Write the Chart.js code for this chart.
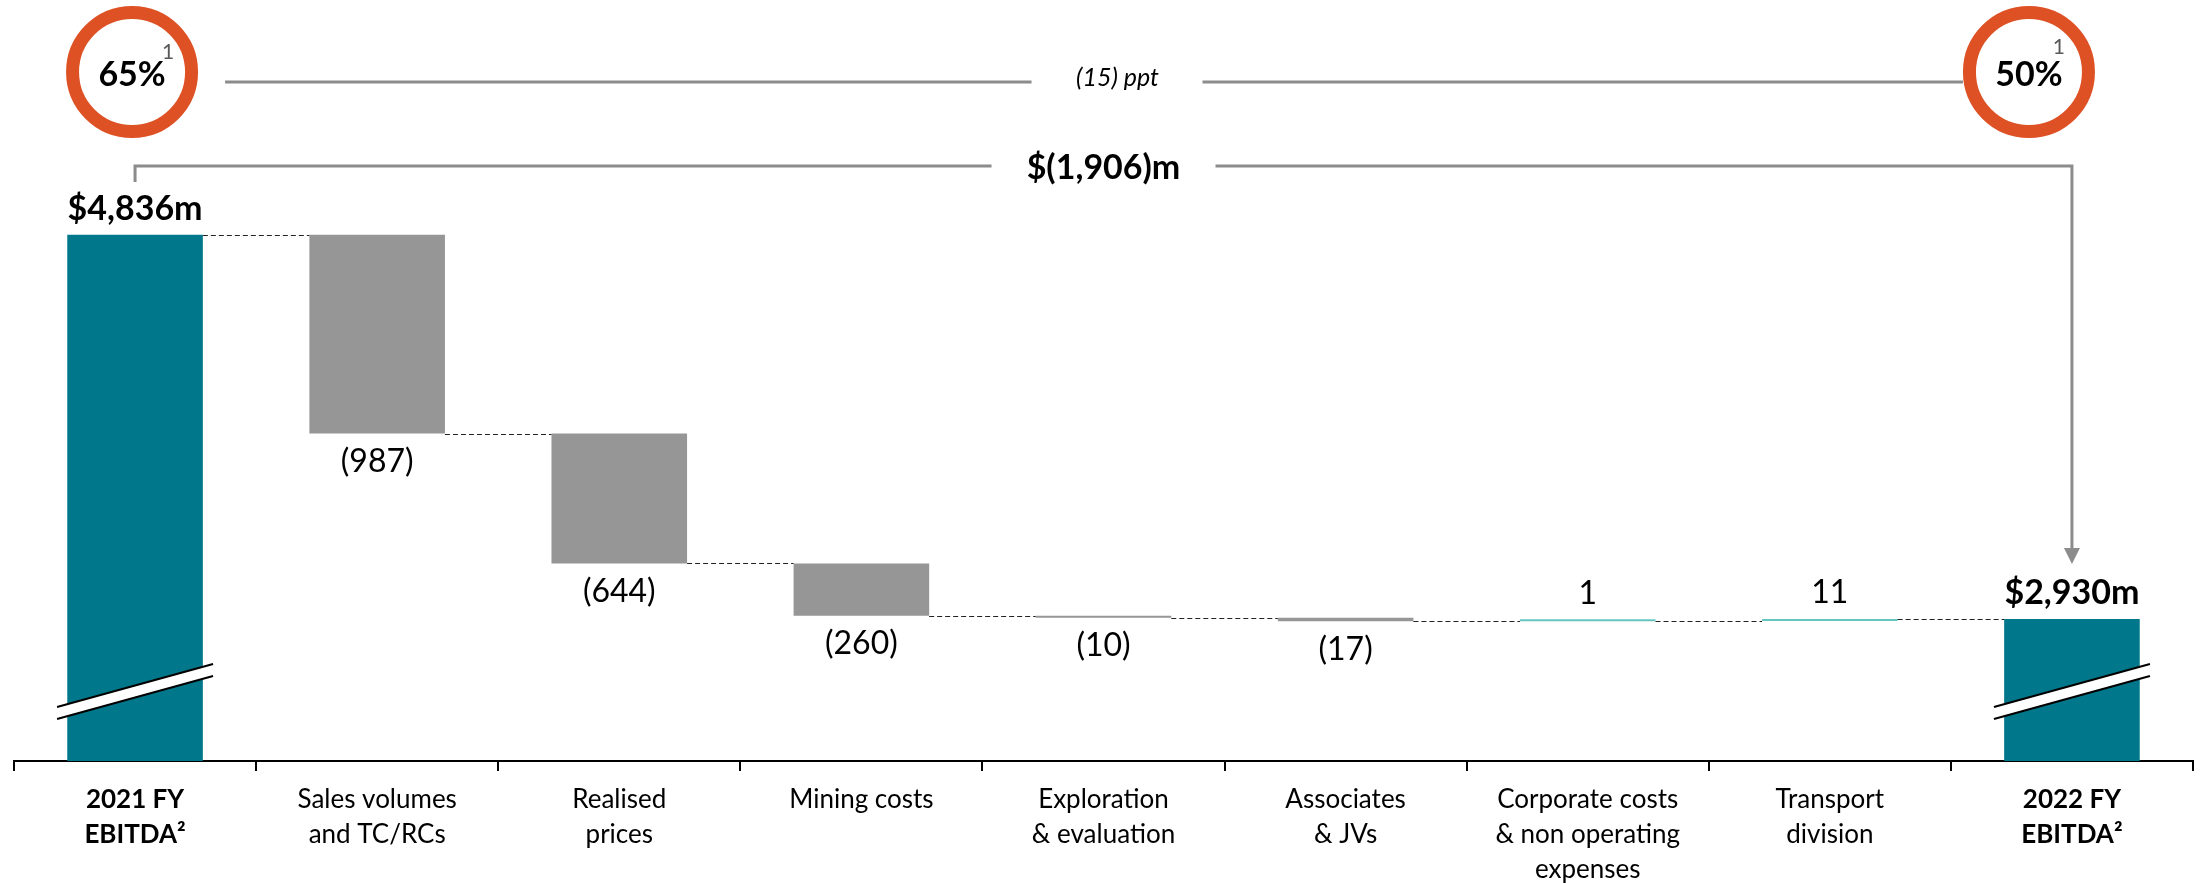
<!DOCTYPE html>
<html>
<head>
<meta charset="utf-8">
<title>EBITDA bridge</title>
<script src="https://cdn.jsdelivr.net/npm/chart.js@4.4.1/dist/chart.umd.min.js"></script>
<style>
  html, body { margin: 0; padding: 0; background: #fff; }
  #wrap { width: 2205px; height: 883px; position: relative; }
</style>
</head>
<body>
<div id="wrap"><canvas id="bridgeChart"></canvas></div>
<script>
// --- DATA ---
const categories = [
    ['2021 FY', 'EBITDA²'],
    ['Sales volumes', 'and TC/RCs'],
    ['Realised', 'prices'],
    ['Mining costs'],
    ['Exploration', '& evaluation'],
    ['Associates', '& JVs'],
    ['Corporate costs', '& non operating', 'expenses'],
    ['Transport', 'division'],
    ['2022 FY', 'EBITDA²']
];
// first and last are totals, the rest are movements ($m)
const movements = [4836, -987, -644, -260, -10, -17, 1, 11, 2930];
const isTotal = [true, false, false, false, false, false, false, false, true];
const margins = [65, 50];      // EBITDA margin %, 2021 and 2022
const marginNote = '1';

// broken value axis: total bars start at the floor
const yFloor = 2225;
const yTop = 6000;

// --- COLOURS ---
const TEAL = '#00778A';
const GREY = '#969696';
const MINT = '#63C7C0';
const RING = '#DE5125';
const LINE = '#8C8C8C';
const FONT = 'Lato';

// floating [start, end] ranges for the waterfall
const ranges = [];
let running = 0;
movements.forEach((v, i) => {
    if (isTotal[i]) {
        ranges.push([yFloor, v]);
        running = v;
    } else {
        ranges.push([running, running + v]);
        running += v;
    }
});

const barColors = movements.map((v, i) => isTotal[i] ? TEAL : (v < 0 ? GREY : MINT));

function valueText(i) {
    const v = movements[i];
    if (isTotal[i]) return '$' + v.toLocaleString('en-US') + 'm';
    return v < 0 ? '(' + Math.abs(v) + ')' : String(v);
}

function fmtNeg(v) {
    return v < 0 ? '(' + Math.abs(v).toLocaleString('en-US') + ')' : v.toLocaleString('en-US');
}

// two parallel slashes with a white gap, marks the axis break
function drawBreak(ctx, cx, cy) {
    const hw = 78, rise = 21.5, gap = 6;
    ctx.save();
    ctx.beginPath();
    ctx.moveTo(cx - hw, cy - gap + rise);
    ctx.lineTo(cx + hw, cy - gap - rise);
    ctx.lineTo(cx + hw, cy + gap - rise);
    ctx.lineTo(cx - hw, cy + gap + rise);
    ctx.closePath();
    ctx.fillStyle = '#fff';
    ctx.fill();
    ctx.strokeStyle = '#000';
    ctx.lineWidth = 2;
    ctx.beginPath();
    ctx.moveTo(cx - hw, cy - gap + rise);
    ctx.lineTo(cx + hw, cy - gap - rise);
    ctx.moveTo(cx - hw, cy + gap + rise);
    ctx.lineTo(cx + hw, cy + gap - rise);
    ctx.stroke();
    ctx.restore();
}

function hLine(ctx, x1, x2, y) {
    ctx.beginPath();
    ctx.moveTo(x1, y);
    ctx.lineTo(x2, y);
    ctx.stroke();
}

const bridgeDecor = {
    id: 'bridgeDecor',
    afterDatasetsDraw(chart) {
        const ctx = chart.ctx;
        const bars = chart.getDatasetMeta(0).data;
        const y = chart.scales.y;
        const bottom = chart.chartArea.bottom;

        // dashed connectors between bars
        ctx.save();
        ctx.strokeStyle = '#222';
        ctx.lineWidth = 1.2;
        ctx.setLineDash([5, 3]);
        for (let i = 0; i < bars.length - 1; i++) {
            const py = Math.round(y.getPixelForValue(ranges[i][1])) + 0.5;
            hLine(ctx, bars[i].x + bars[i].width / 2, bars[i + 1].x - bars[i + 1].width / 2, py);
        }
        ctx.restore();

        // break marks on the total bars
        bars.forEach((b, i) => {
            if (isTotal[i]) drawBreak(ctx, b.x, bottom - 69.5);
        });

        // value labels
        ctx.save();
        ctx.textAlign = 'center';
        ctx.textBaseline = 'middle';
        ctx.fillStyle = '#000';
        bars.forEach((b, i) => {
            const top = Math.min(b.y, b.base);
            const bot = Math.max(b.y, b.base);
            if (isTotal[i]) {
                ctx.font = 'bold 34px ' + FONT;
                ctx.fillText(valueText(i), b.x, top - 26);
            } else if (movements[i] < 0) {
                ctx.font = '32px ' + FONT;
                ctx.fillText(valueText(i), b.x, bot + 28);
            } else {
                ctx.font = '32px ' + FONT;
                ctx.fillText(valueText(i), b.x, top - 26);
            }
        });
        ctx.restore();
    },
    afterDraw(chart) {
        const ctx = chart.ctx;
        const bars = chart.getDatasetMeta(0).data;
        const first = bars[0];
        const last = bars[bars.length - 1];
        const mid = (first.x + last.x) / 2;

        // --- margin rings ---
        const ringY = 72, ringR = 59.5;
        const rings = [first.x - 3, last.x - 43];
        ctx.save();
        rings.forEach((rx, k) => {
            ctx.beginPath();
            ctx.arc(rx, ringY, ringR, 0, Math.PI * 2);
            ctx.strokeStyle = RING;
            ctx.lineWidth = 13;
            ctx.stroke();
            ctx.fillStyle = '#000';
            ctx.textAlign = 'center';
            ctx.textBaseline = 'middle';
            ctx.font = 'bold 34px ' + FONT;
            ctx.fillText(margins[k] + '%', rx, ringY + 3);
            ctx.fillStyle = '#595959';
            ctx.font = '21px ' + FONT;
            ctx.fillText(marginNote, rx + (k === 0 ? 36 : 30), ringY - (k === 0 ? 20 : 25));
        });

        // margin change line
        const pptX = mid + 14;
        ctx.strokeStyle = LINE;
        ctx.lineWidth = 3;
        hLine(ctx, rings[0] + ringR + 6.5 + 27, pptX - 86, 82);
        hLine(ctx, pptX + 85, rings[1] - ringR - 6.5, 82);
        ctx.fillStyle = '#000';
        ctx.font = 'italic 25px ' + FONT;
        ctx.textAlign = 'center';
        ctx.textBaseline = 'middle';
        ctx.fillText(fmtNeg(margins[1] - margins[0]) + ' ppt', pptX, 78);

        // --- EBITDA change bracket with arrow ---
        const bY = 166;
        const tip = Math.min(last.y, last.base) - 55;
        ctx.strokeStyle = LINE;
        ctx.lineWidth = 3;
        ctx.beginPath();
        ctx.moveTo(first.x, 182);
        ctx.lineTo(first.x, bY);
        ctx.lineTo(mid - 112, bY);
        ctx.stroke();
        ctx.beginPath();
        ctx.moveTo(mid + 112, bY);
        ctx.lineTo(last.x, bY);
        ctx.lineTo(last.x, tip - 14);
        ctx.stroke();
        ctx.fillStyle = LINE;
        ctx.beginPath();
        ctx.moveTo(last.x - 8, tip - 16);
        ctx.lineTo(last.x + 8, tip - 16);
        ctx.lineTo(last.x, tip);
        ctx.closePath();
        ctx.fill();

        const delta = movements[movements.length - 1] - movements[0];
        ctx.fillStyle = '#000';
        ctx.font = 'bold 34px ' + FONT;
        ctx.fillText('$' + fmtNeg(delta) + 'm', mid, bY + 2);
        ctx.restore();
    }
};

const ctxBridge = document.getElementById('bridgeChart').getContext('2d');

new Chart(ctxBridge, {
    type: 'bar',
    data: {
        labels: categories,
        datasets: [{
            data: ranges,
            backgroundColor: barColors,
            borderWidth: 0,
            barPercentage: 0.56,
            categoryPercentage: 1,
            minBarLength: 2
        }]
    },
    options: {
        responsive: true,
        maintainAspectRatio: false,
        animation: false,
        layout: { padding: { left: 14, right: 12, top: 0, bottom: 0 } },
        plugins: {
            legend: { display: false },
            tooltip: { enabled: false }
        },
        scales: {
            x: {
                offset: true,
                grid: {
                    offset: true,
                    drawOnChartArea: false,
                    drawTicks: true,
                    tickLength: 10,
                    color: '#000',
                    lineWidth: 2
                },
                border: { display: true, color: '#000', width: 2 },
                ticks: {
                    color: '#000',
                    padding: 11,
                    maxRotation: 0,
                    autoSkip: false,
                    font: (c) => ({
                        family: FONT,
                        size: 26,
                        lineHeight: 1.35,
                        weight: (c.index === 0 || c.index === categories.length - 1) ? 'bold' : 'normal'
                    })
                },
                afterFit: (scale) => { scale.height = 122; }
            },
            y: {
                display: false,
                min: yFloor,
                max: yTop
            }
        }
    },
    plugins: [bridgeDecor]
});
</script>
</body>
</html>
